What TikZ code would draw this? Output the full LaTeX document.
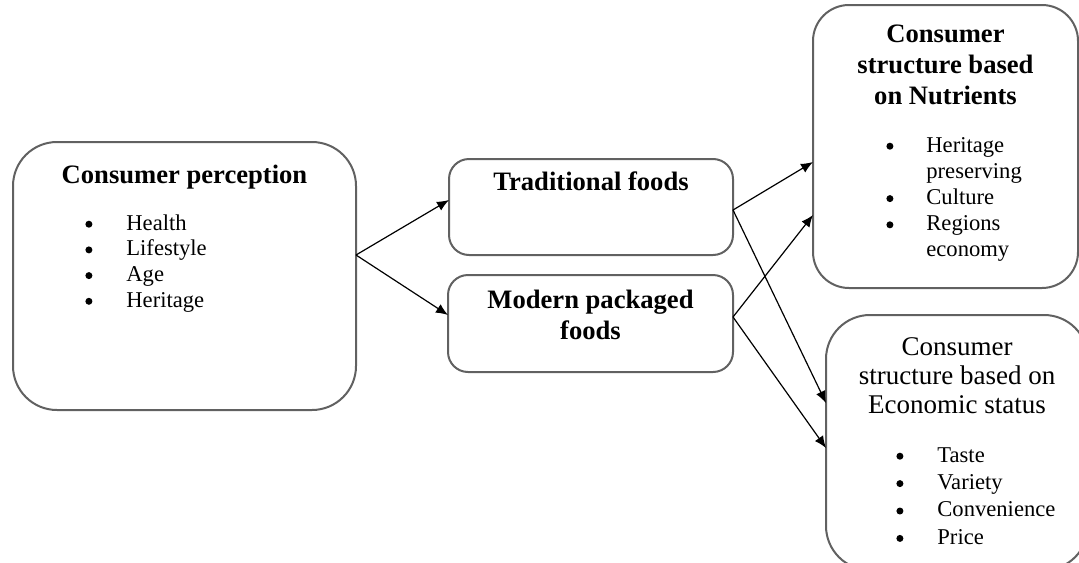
\documentclass[tikz,border=0pt]{standalone}
\usepackage{fontspec}
\setmainfont{Liberation Serif}
\usetikzlibrary{calc,arrows.meta}
\tikzset{
  box/.style={draw=black!62, line width=1pt, fill=white, outer sep=0pt, inner sep=0pt},
  arr/.style={line width=0.6pt, -{Latex[length=6pt,width=5pt]}},
  ttl/.style={anchor=base, inner sep=0pt, font=\fontsize{13.3}{15.5}\selectfont\bfseries},
  ttlr/.style={anchor=base, inner sep=0pt, font=\fontsize{13.5}{14.7}\selectfont},
  lst/.style={anchor=base west, inner sep=0pt}
}
\newcommand{\bul}[1]{\makebox[#1][l]{\tikz[baseline=0pt]\fill[black] (1.75pt,2.9pt) circle[radius=1.75pt];}}
\begin{document}
\begin{tikzpicture}[x=0.5pt,y=-0.5pt]
\useasboundingbox (0,0) rectangle (1079,562);
% boxes
\node[box, rounded corners=22pt, minimum width=171.5pt, minimum height=134pt] (A) at (184.5,276) {};
\node[box, rounded corners=10pt, minimum width=142pt, minimum height=48pt] (B) at (591,207) {};
\node[box, rounded corners=10pt, minimum width=142.5pt, minimum height=48.5pt] (C) at (590.5,323.5) {};
\node[box, rounded corners=18pt, minimum width=132.5pt, minimum height=141.5pt] (D) at (945.5,146.5) {};
\node[box, rounded corners=22pt, minimum width=131pt, minimum height=127.5pt] (E) at (957,442.5) {};
% titles
\node[ttl] (At) at (184.5,183) {Consumer perception};
\node[ttl] (Bt) at (591,190) {Traditional foods};
\node[ttl] (Ct) at (590.5,308) {\begin{tabular}[t]{@{}c@{}}Modern packaged\\foods\end{tabular}};
\node[ttl] (Dt) at (945.5,42) {\begin{tabular}[t]{@{}c@{}}Consumer\\structure based\\on Nutrients\end{tabular}};
\node[ttlr] (Et) at (957,355) {\begin{tabular}[t]{@{}c@{}}Consumer\\structure based on\\Economic status\end{tabular}};
% lists
\node[lst] (Al) at (85,230) {\fontsize{11.3}{12.85}\selectfont\begin{tabular}[t]{@{}l@{}l@{}}
\bul{20.5pt}&Health\\ \bul{20.5pt}&Lifestyle\\ \bul{20.5pt}&Age\\ \bul{20.5pt}&Heritage\end{tabular}};
\node[lst] (Dl) at (886,152) {\fontsize{11.3}{13.1}\selectfont\begin{tabular}[t]{@{}l@{}l@{}}
\bul{20pt}&Heritage\\ &preserving\\ \bul{20pt}&Culture\\ \bul{20pt}&Regions\\ &economy\end{tabular}};
\node[lst] (El) at (896,462) {\fontsize{11.3}{13.7}\selectfont\begin{tabular}[t]{@{}l@{}l@{}}
\bul{20.5pt}&Taste\\ \bul{20.5pt}&Variety\\ \bul{20.5pt}&Convenience\\ \bul{20.5pt}&Price\end{tabular}};
% connector points
\coordinate (aOut) at ($(A.east)+(0,-21)$);
\coordinate (bIn) at ($(B.west)+(0,-7)$);
\coordinate (cIn) at ($(C.west)+(0,-8.5)$);
\coordinate (bOut) at ($(B.east)+(0,3)$);
\coordinate (cOut) at ($(C.east)+(0,-6.5)$);
\coordinate (dIn1) at ($(D.west)+(0,15.5)$);
\coordinate (dIn2) at ($(D.west)+(0,68.5)$);
\coordinate (eIn1) at ($(E.west)+(0,-39.5)$);
\coordinate (eIn2) at ($(E.west)+(0,5.5)$);
% connectors
\draw[arr] (aOut) -- (bIn);
\draw[arr] (aOut) -- (cIn);
\draw[arr] (bOut) -- (dIn1);
\draw[arr] (cOut) -- (dIn2);
\draw[arr] (bOut) -- (eIn1);
\draw[arr] (cOut) -- (eIn2);
\end{tikzpicture}
\end{document}
